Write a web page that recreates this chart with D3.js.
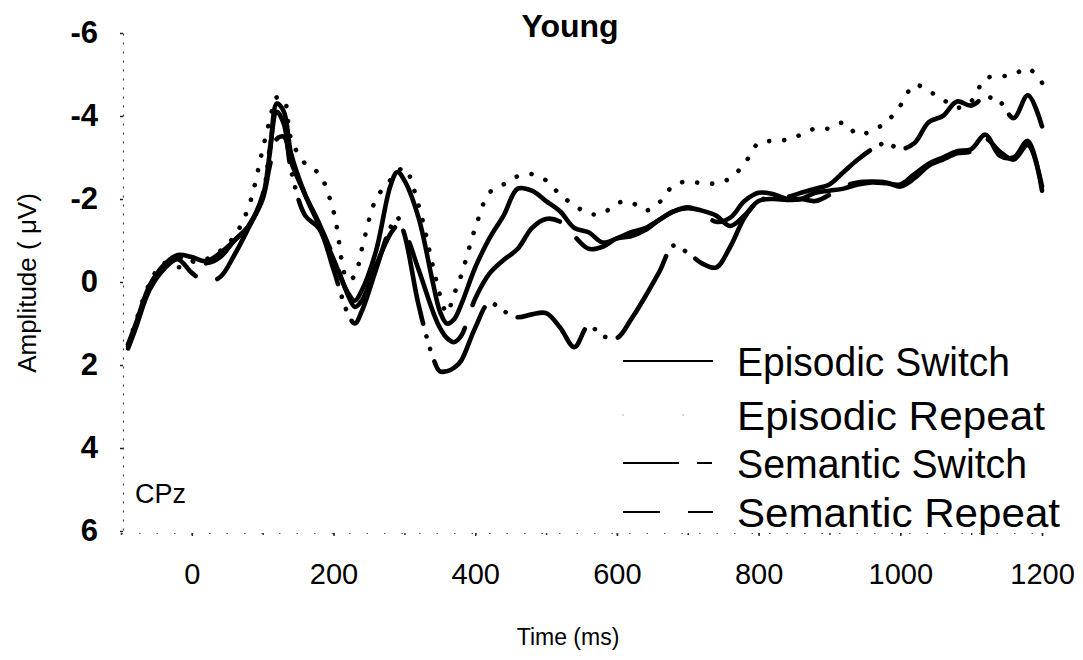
<!DOCTYPE html>
<html>
<head>
<meta charset="utf-8">
<script src="https://cdn.jsdelivr.net/npm/d3@7"></script>
<style>
  body { margin: 0; background: #fff; }
  text { font-family: "Liberation Sans", Arial, Helvetica, sans-serif; fill: #000; }
</style>
</head>
<body>
<svg id="chart" width="1083" height="660"></svg>
<script>
// time points (ms) shared by all four waveforms
var times = [
  -90, -80, -60, -40, -20, 0, 20, 40, 60, 80,
  100, 110, 120, 130, 140, 160, 180, 200, 220, 230,
  240, 260, 280, 290, 300, 320, 340, 350, 360, 370,
  380, 400, 420, 440, 460, 480, 500, 520, 540, 560,
  580, 600, 620, 640, 660, 680, 700, 720, 740, 760,
  780, 800, 820, 840, 860, 880, 900, 920, 940, 960,
  980, 1000, 1020, 1040, 1060, 1080, 1100, 1120, 1140, 1160,
  1180, 1200
];

// amplitudes in microvolts (negative up)
var episodicSwitch = [
  1.5, 1.05, 0.1, -0.4, -0.65, -0.6, -0.5, -0.7, -1.0, -1.35,
  -2.05, -3.1, -4.3, -4.1, -3.1, -2.1, -1.35, -0.55, 0.25, 0.45,
  0.2, -0.75, -2.3, -2.65, -2.45, -1.55, 0.0, 0.7, 1.0, 0.9,
  0.55, -0.35, -1.05, -1.6, -2.25, -2.2, -1.95, -1.7, -1.3, -1.2,
  -0.95, -1.05, -1.2, -1.3, -1.5, -1.7, -1.78, -1.72, -1.6, -1.35,
  -1.6, -1.95, -2.0, -1.98, -2.0, -2.15, -2.2, -2.25, -2.35, -2.4,
  -2.38, -2.35, -2.6, -2.85, -3.0, -3.15, -3.2, -3.55, -3.05, -3.0,
  -3.4, -2.2
];
var episodicRepeat = [
  1.5, 1.0, 0.05, -0.45, -0.35, -0.5, -0.55, -0.75, -1.1, -1.8,
  -3.2, -3.9, -4.45, -4.4, -3.45, -2.85, -2.6, -1.7, -0.05, -0.15,
  -0.8, -2.0, -2.45, -2.65, -2.75, -1.85, -0.4, 0.3, 0.75, 0.3,
  -0.15, -1.3, -2.15, -2.35, -2.55, -2.6, -2.45, -2.1, -1.85, -1.65,
  -1.65, -1.9, -1.92, -1.72, -1.92, -2.33, -2.42, -2.38, -2.38, -2.5,
  -2.85, -3.35, -3.4, -3.43, -3.55, -3.7, -3.7, -3.84, -3.55, -3.65,
  -3.85, -4.25, -4.75, -4.6, -4.4, -4.2, -4.35, -4.9, -4.95, -5.0,
  -5.15, -4.8
];
var semanticSwitch = [
  1.55, 1.1, 0.15, -0.35, -0.6, -0.5, -0.45, -0.6, -1.0, -1.35,
  -2.1, -3.2, -4.1, -3.8, -2.7, -1.6, -1.28, -0.3, 0.75, 1.0,
  0.7, -0.3, -1.3, -1.55, -1.15, 0.55, 1.8, 2.15, 2.15, 2.07,
  1.9, 1.1, 0.5, 0.7, 0.85, 0.78, 0.75, 1.1, 1.57, 1.05,
  1.3, 1.35, 0.9, 0.35, -0.25, -0.88, -0.7, -0.45, -0.35, -0.85,
  -1.55, -1.95, -2.05, -2.05, -2.15, -2.25, -2.35, -2.65, -2.95, -3.2,
  -3.35, -3.2, -3.35, -3.85, -4.0, -4.35, -4.25, -4.45, -4.35, -3.95,
  -4.5, -3.75
];
var semanticRepeat = [
  1.6, 1.15, 0.2, -0.3, -0.55, -0.22, 0.0, -0.12, -0.65, -1.3,
  -2.0, -2.8, -3.45, -3.5, -2.9, -2.1, -1.4, -0.6, 0.3, 0.6,
  0.45, -0.4, -1.15, -1.35, -1.2, -0.3, 0.7, 1.1, 1.35, 1.45,
  1.3, 0.4, -0.2, -0.53, -0.8, -1.3, -1.52, -1.45, -1.1, -0.8,
  -0.85, -1.05, -1.1, -1.25, -1.5, -1.7, -1.8, -1.68, -1.45, -1.55,
  -1.95, -2.15, -2.12, -2.0, -2.0, -1.95, -2.1, -2.3, -2.4, -2.42,
  -2.4, -2.3, -2.5, -2.8, -2.95, -3.1, -3.15, -3.45, -3.15, -2.95,
  -3.3, -2.3
];

var seriesNames = ["Episodic Switch", "Episodic Repeat", "Semantic Switch", "Semantic Repeat"];
var xTicks = [0, 200, 400, 600, 800, 1000, 1200];
var xMinorTicks = [-100, 0, 100, 200, 300, 400, 500, 600, 700, 800, 900, 1000, 1100, 1200];
var yTicks = [-6, -4, -2, 0, 2, 4, 6];

var svg = d3.select("#chart");

var x = d3.scaleLinear().domain([-100, 1200]).range([121, 1042]),
  y = d3.scaleLinear().domain([-6, 6]).range([33, 531]);

// line styles per series: solid, dotted, long-dot-dot, long dash
var styles = [
  { dash: null, width: 4.6 },
  { dash: "0.1,15", width: 4.6 },
  { dash: "95,13,0.1,13,0.1,13", width: 4.6 },
  { dash: "130,24", width: 4.6 }
];
var legendDash = [null, "0.1,60", "56,18,15,40", "37,28,25,40"];
var legendWidth = [273, 308, 290, 323];

// y axis (dotted, as in the scan)
var yAxis = svg.append("g").attr("transform", "translate(123,0)")
  .call(d3.axisLeft(y).tickValues(yTicks).tickSize(3).tickSizeOuter(0).tickPadding(22)
    .tickFormat(function(d) { return String(d) }));
yAxis.select(".domain").attr("stroke", "#444").attr("stroke-width", 1.2).attr("stroke-dasharray", "2,7");
yAxis.selectAll(".tick line").attr("stroke", "#222").attr("stroke-width", 1.5);
yAxis.selectAll(".tick text").style("font-size", "31px").style("font-weight", "bold").attr("fill", "#000");

// x axis
var xAxis = svg.append("g").attr("transform", "translate(0,533)")
  .call(d3.axisBottom(x).tickValues(xTicks).tickSize(3).tickSizeOuter(0).tickPadding(27)
    .tickFormat(function(d) { return String(d) }));
xAxis.select(".domain").attr("stroke", "#666").attr("stroke-width", 1).attr("stroke-dasharray", "1.5,16");
xAxis.selectAll(".tick line").attr("stroke", "#222").attr("stroke-width", 1.5);
xAxis.selectAll(".tick text").style("font-size", "29px").attr("fill", "#000");
svg.append("g").attr("transform", "translate(0,533)")
  .call(d3.axisBottom(x).tickValues(xMinorTicks).tickSize(2).tickSizeOuter(0).tickFormat(""))
  .call(function(g) {
    g.select(".domain").remove();
    g.selectAll(".tick line").attr("stroke", "#333").attr("stroke-width", 1.5);
  });

// waveforms
var line = d3.line()
  .x(function(d) { return x(d.t) })
  .y(function(d) { return y(d.v) })
  .curve(d3.curveCatmullRom.alpha(0.5));

var allSeries = [episodicSwitch, episodicRepeat, semanticSwitch, semanticRepeat];
allSeries.forEach(function(vals, i) {
  var pts = times.map(function(t, j) { return { t: t, v: vals[j] } });
  var st = styles[i];
  svg.append("path").datum(pts)
    .attr("d", line)
    .attr("fill", "none")
    .attr("stroke", "#000")
    .attr("stroke-width", st.width)
    .attr("stroke-linecap", "round")
    .attr("stroke-linejoin", "round")
    .attr("stroke-dasharray", st.dash);
});

// title and labels
svg.append("text").attr("x", 570).attr("y", 37).attr("text-anchor", "middle")
  .style("font-size", "32px").style("font-weight", "bold").text("Young");
svg.append("text").attr("transform", "translate(36,283) rotate(-90)").attr("text-anchor", "middle")
  .style("font-size", "26px").text("Amplitude ( \u03bcV)");
svg.append("text").attr("x", 568).attr("y", 645).attr("text-anchor", "middle")
  .style("font-size", "23px").text("Time (ms)");
svg.append("text").attr("x", 135).attr("y", 503).style("font-size", "27px").text("CPz");

// legend
var legendBase = [376, 430, 478, 527];
var lg = svg.append("g");
seriesNames.forEach(function(name, i) {
  var by = legendBase[i];
  lg.append("line").attr("x1", 623).attr("x2", 713).attr("y1", by - 15).attr("y2", by - 15)
    .attr("stroke", i == 1 ? "#aaa" : "#000")
    .attr("stroke-width", i == 1 ? 1.5 : 2.2)
    .attr("stroke-linecap", i == 1 ? "round" : "butt")
    .attr("stroke-dasharray", legendDash[i]);
  lg.append("text").attr("x", 737).attr("y", by).style("font-size", "41px")
    .attr("textLength", legendWidth[i]).attr("lengthAdjust", "spacingAndGlyphs")
    .text(name);
});
</script>
</body>
</html>
